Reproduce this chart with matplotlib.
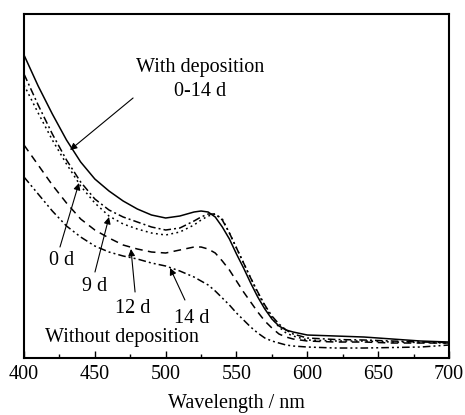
import matplotlib
matplotlib.use("Agg")
import matplotlib.pyplot as plt

plt.rcParams['font.family'] = ['Liberation Serif', 'DejaVu Serif']

# wavelength grid (nm)
wl = [400, 410, 420, 430, 440, 450, 460, 470, 480, 490, 500, 510, 520, 525, 530, 535,
      540, 545, 550, 555, 560, 565, 570, 575, 580, 585, 590, 600, 620, 640, 660, 680, 700]

# absorbance (arbitrary units)
with_dep = [3.03, 2.72, 2.44, 2.18, 1.96, 1.79, 1.67, 1.57, 1.49, 1.43, 1.40, 1.42, 1.46, 1.47, 1.46, 1.41,
            1.31, 1.19, 1.04, 0.90, 0.75, 0.61, 0.49, 0.39, 0.32, 0.28, 0.26, 0.23, 0.22, 0.21, 0.19, 0.17, 0.16]
d0 = [2.84, 2.53, 2.24, 1.98, 1.76, 1.59, 1.48, 1.41, 1.36, 1.31, 1.28, 1.30, 1.37, 1.41, 1.44, 1.44,
      1.38, 1.25, 1.10, 0.95, 0.80, 0.66, 0.53, 0.42, 0.34, 0.28, 0.24, 0.20, 0.185, 0.18, 0.17, 0.16, 0.155]
d9 = [2.73, 2.45, 2.18, 1.94, 1.72, 1.55, 1.42, 1.34, 1.29, 1.25, 1.23, 1.26, 1.33, 1.38, 1.42, 1.44,
      1.39, 1.25, 1.10, 0.95, 0.80, 0.65, 0.52, 0.40, 0.31, 0.25, 0.22, 0.18, 0.17, 0.17, 0.16, 0.155, 0.15]
d12 = [2.13, 1.93, 1.73, 1.55, 1.39, 1.28, 1.20, 1.13, 1.09, 1.06, 1.05, 1.08, 1.11, 1.11, 1.09, 1.05,
       0.97, 0.88, 0.77, 0.66, 0.56, 0.46, 0.37, 0.30, 0.24, 0.21, 0.19, 0.17, 0.16, 0.16, 0.15, 0.15, 0.15]
d14 = [1.81, 1.64, 1.47, 1.32, 1.21, 1.12, 1.06, 1.02, 0.99, 0.95, 0.92, 0.87, 0.81, 0.77, 0.73, 0.67,
       0.60, 0.53, 0.45, 0.38, 0.31, 0.25, 0.20, 0.17, 0.15, 0.13, 0.12, 0.11, 0.10, 0.10, 0.105, 0.11, 0.13]

fs = 14.5

fig = plt.figure(figsize=(4.65, 4.15), dpi=100)
ax = fig.add_axes([0.0516, 0.1373, 0.914, 0.829])

lw = 1.1
ax.plot(wl, with_dep, color='k', lw=lw, linestyle='-')
ax.plot(wl, d0, color='k', lw=lw, linestyle=(0, (5, 2, 1.3, 2)))
ax.plot(wl, d9, color='k', lw=lw, linestyle=(0, (1.2, 2.2)))
ax.plot(wl, d12, color='k', lw=lw, linestyle=(0, (5, 3.5)))
ax.plot(wl, d14, color='k', lw=lw, linestyle=(0, (5, 2, 1.3, 2, 1.3, 2)))

ax.set_xlim(400, 700)
ax.set_ylim(0, 3.44)
ax.set_xticks([400, 450, 500, 550, 600, 650, 700])
ax.set_xticks([425, 475, 525, 575, 625, 675], minor=True)
ax.set_yticks([])
ax.tick_params(axis='x', which='major', direction='in', length=5, width=1, labelsize=fs, pad=5, top=False)
ax.tick_params(axis='x', which='minor', direction='in', length=3, width=1, top=False)
for s in ax.spines.values():
    s.set_linewidth(1.5)
ax.set_xlabel('Wavelength / nm', fontsize=fs, labelpad=7)

arrow = dict(arrowstyle='-|>', color='k', lw=0.8, mutation_scale=10, shrinkA=0, shrinkB=0)
ax.text(524, 2.90, 'With deposition', ha='center', va='center', fontsize=fs)
ax.text(524, 2.66, '0-14 d', ha='center', va='center', fontsize=fs)
ax.annotate('', xy=(432.5, 2.08), xytext=(477, 2.60), arrowprops=arrow)

ax.text(426.8, 0.98, '0 d', ha='center', va='center', fontsize=fs)
ax.annotate('', xy=(438.8, 1.75), xytext=(425.4, 1.11), arrowprops=arrow)
ax.text(450.1, 0.72, '9 d', ha='center', va='center', fontsize=fs)
ax.annotate('', xy=(460, 1.41), xytext=(450.1, 0.86), arrowprops=arrow)
ax.text(476.9, 0.50, '12 d', ha='center', va='center', fontsize=fs)
ax.annotate('', xy=(475.5, 1.09), xytext=(478.4, 0.66), arrowprops=arrow)
ax.text(518.6, 0.40, '14 d', ha='center', va='center', fontsize=fs)
ax.annotate('', xy=(503.1, 0.90), xytext=(513.6, 0.58), arrowprops=arrow)
ax.text(469.2, 0.21, 'Without deposition', ha='center', va='center', fontsize=fs)

fig.savefig('out.png', dpi=100)
